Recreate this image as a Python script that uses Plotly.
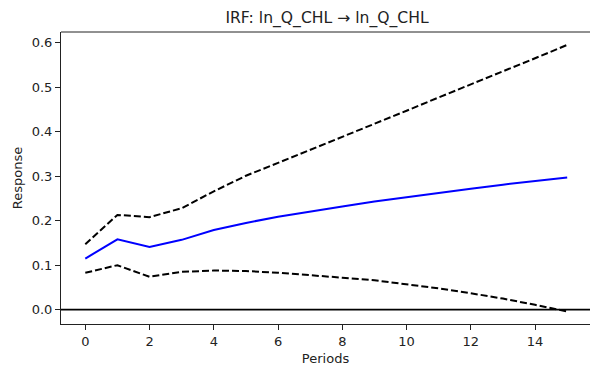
import plotly.graph_objects as go

periods = list(range(16))
irf = [0.115, 0.158, 0.141, 0.157, 0.179, 0.195, 0.209, 0.221, 0.232, 0.243, 0.253, 0.263, 0.272, 0.281, 0.289, 0.297]
upper = [0.147, 0.213, 0.208, 0.228, 0.266, 0.301, 0.330, 0.359, 0.388, 0.418, 0.447, 0.477, 0.506, 0.536, 0.565, 0.595]
lower = [0.083, 0.100, 0.074, 0.085, 0.088, 0.087, 0.083, 0.078, 0.072, 0.066, 0.057, 0.048, 0.037, 0.025, 0.011, -0.004]
x_ticks = [0, 2, 4, 6, 8, 10, 12, 14]
y_ticks = [0.0, 0.1, 0.2, 0.3, 0.4, 0.5, 0.6]

fig = go.Figure()
fig.add_trace(go.Scatter(x=periods, y=upper, mode="lines",
                         line=dict(color="black", width=2, dash="7px,3px"), showlegend=False))
fig.add_trace(go.Scatter(x=periods, y=lower, mode="lines",
                         line=dict(color="black", width=2, dash="7px,3px"), showlegend=False))
fig.add_trace(go.Scatter(x=periods, y=irf, mode="lines",
                         line=dict(color="blue", width=2), showlegend=False))
fig.add_hline(y=0, line=dict(color="black", width=1.8))
# top spine (right spine is cropped off in the reference)
fig.add_shape(type="line", xref="paper", yref="paper", x0=0, x1=1, y0=1, y1=1,
              line=dict(color="#222222", width=1))

fig.update_layout(
    width=590, height=371,
    margin=dict(l=61, r=0, t=32, b=47),
    plot_bgcolor="white", paper_bgcolor="white",
    font=dict(family="DejaVu Sans", size=13, color="#222222"),
    title=dict(text="IRF: ln_Q_CHL → ln_Q_CHL", x=327 / 590, xref="container",
               xanchor="center", y=1 - 18 / 371, yanchor="middle",
               font=dict(size=15.6, color="#222222")),
    xaxis=dict(range=[-0.756, 15.71], tickvals=x_ticks,
               ticks="outside", ticklen=5, tickcolor="#222222", showgrid=False, zeroline=False,
               showline=True, linecolor="#222222", linewidth=1, mirror=False,
               title=dict(text="Periods", standoff=6, font=dict(size=13))),
    yaxis=dict(range=[-0.0321, 0.624], tickvals=y_ticks, tickformat=".1f",
               ticks="outside", ticklen=5, tickcolor="#222222", showgrid=False, zeroline=False,
               showline=True, linecolor="#222222", linewidth=1, mirror=False,
               title=dict(text="Response", standoff=6, font=dict(size=13))),
)

fig.write_html("out.html")
